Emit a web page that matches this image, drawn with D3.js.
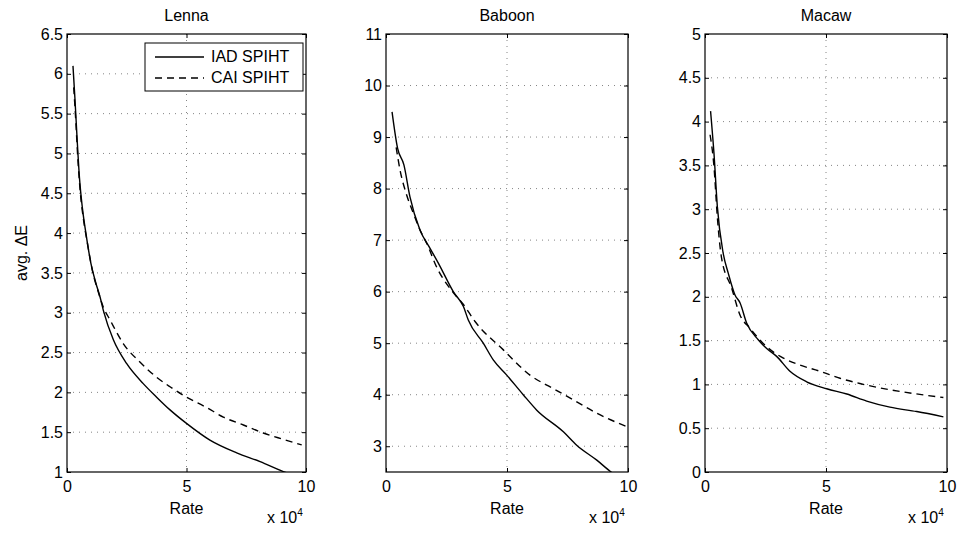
<!DOCTYPE html>
<html><head><meta charset="utf-8">
<script src="https://cdn.jsdelivr.net/npm/d3@7"></script>
<style>body{margin:0;background:#fff}svg{font-family:"Liberation Sans",Arial,Helvetica,sans-serif}</style>
</head><body><svg id="c" width="960" height="533"></svg>
<script>
const xTicks = [0, 5, 10];
const titles = ["Lenna", "Baboon", "Macaw"];
const seriesNames = ["IAD SPIHT", "CAI SPIHT"];
const yDomains = [[1, 6.5], [2.5, 11], [0, 5]];
const yTickSets = [
  [1,1.5,2,2.5,3,3.5,4,4.5,5,5.5,6,6.5],
  [3,4,5,6,7,8,9,10,11],
  [0,0.5,1,1.5,2,2.5,3,3.5,4,4.5,5]
];
// rate (x 10^4), avg dE
const lennaIAD = [[0.25,6.1],[0.33,5.7],[0.42,5.2],[0.52,4.7],[0.65,4.3],[0.8,3.98],[1.0,3.62],[1.2,3.38],[1.38,3.2],[1.52,3.03],[1.94,2.66],[2.5,2.36],[3.19,2.11],[3.75,1.94],[4.31,1.78],[5.0,1.61],[5.98,1.4],[7.1,1.24],[8.08,1.13],[9.19,0.99],[10,0.92]];
const lennaCAI = [[0.28,5.83],[0.36,5.45],[0.45,4.95],[0.56,4.5],[0.7,4.15],[0.85,3.88],[1.07,3.52],[1.3,3.27],[1.52,3.07],[1.8,2.91],[2.36,2.61],[3.05,2.38],[3.75,2.19],[4.31,2.07],[5.0,1.94],[5.84,1.81],[6.54,1.69],[7.38,1.59],[8.21,1.49],[9.05,1.41],[9.82,1.34]];
const baboonIAD = [[0.25,9.49],[0.48,8.78],[0.74,8.46],[0.99,7.84],[1.4,7.2],[1.82,6.84],[2.2,6.52],[2.78,6.0],[3.2,5.71],[3.4,5.45],[4.02,5.0],[4.44,4.67],[4.99,4.38],[5.67,4.0],[6.23,3.7],[7.33,3.28],[7.88,3.02],[8.71,2.73],[9.33,2.49],[10,2.3]];
const baboonCAI = [[0.42,8.8],[0.58,8.36],[0.83,7.91],[1.13,7.52],[1.4,7.2],[1.75,6.87],[2.02,6.55],[2.78,5.98],[3.2,5.75],[3.68,5.42],[4.85,4.87],[5.95,4.38],[6.91,4.12],[7.74,3.9],[8.71,3.64],[9.95,3.38]];
const macawIAD = [[0.23,4.12],[0.37,3.64],[0.51,3.03],[0.75,2.5],[0.96,2.27],[1.24,2.02],[1.45,1.93],[1.72,1.7],[2.2,1.51],[2.55,1.41],[2.96,1.32],[3.51,1.15],[4.2,1.03],[5.03,0.95],[5.86,0.89],[6.68,0.81],[7.64,0.74],[8.75,0.69],[9.85,0.63]];
const macawCAI = [[0.21,3.85],[0.37,3.49],[0.51,2.91],[0.68,2.45],[1.1,2.1],[1.45,1.79],[1.86,1.64],[2.55,1.43],[3.24,1.3],[3.93,1.22],[4.75,1.15],[5.58,1.07],[6.4,1.01],[7.23,0.96],[8.06,0.92],[9.02,0.88],[9.85,0.85]];
const data = [[lennaIAD, lennaCAI],[baboonIAD, baboonCAI],[macawIAD, macawCAI]];

const svg = d3.select("#c");
const panels = [{l:67,r:306},{l:386,r:628},{l:705,r:947}];
const plotTop = 34, plotBot = 472;
const dashes = [null, "7,5"];
const FS = 16;

panels.forEach((p, i) => {
  const x = d3.scaleLinear().domain([0, 10]).range([p.l, p.r]);
  const y = d3.scaleLinear().domain(yDomains[i]).range([plotBot, plotTop]);
  const g = svg.append("g");
  const cid = "clip" + i;
  svg.append("clipPath").attr("id", cid).append("rect")
    .attr("x", p.l).attr("y", plotTop).attr("width", p.r - p.l).attr("height", plotBot - plotTop);
  // grid
  const grid = g.append("g").attr("stroke", "#666").attr("stroke-width", 0.8).attr("stroke-dasharray", "1,5");
  xTicks.slice(1, -1).forEach(t => grid.append("line").attr("x1", x(t)).attr("x2", x(t)).attr("y1", plotTop).attr("y2", plotBot));
  yTickSets[i].forEach(t => { if (t !== yDomains[i][0] && t !== yDomains[i][1]) grid.append("line").attr("x1", p.l).attr("x2", p.r).attr("y1", y(t)).attr("y2", y(t)); });
  // axes (ticks inside)
  g.append("g").attr("transform", `translate(0,${plotBot})`)
    .call(d3.axisBottom(x).tickValues(xTicks).tickSize(-4).tickPadding(9).tickFormat(d3.format("d")))
    .call(a => a.select(".domain").remove());
  g.append("g").attr("transform", `translate(0,${plotTop})`)
    .call(d3.axisTop(x).tickValues(xTicks).tickSize(-4).tickFormat(""))
    .call(a => a.select(".domain").remove());
  g.append("g").attr("transform", `translate(${p.l},0)`)
    .call(d3.axisLeft(y).tickValues(yTickSets[i]).tickSize(-4).tickPadding(4).tickFormat(d => String(d)))
    .call(a => a.select(".domain").remove());
  g.append("g").attr("transform", `translate(${p.r},0)`)
    .call(d3.axisRight(y).tickValues(yTickSets[i]).tickSize(-4).tickFormat(""))
    .call(a => a.select(".domain").remove());
  g.selectAll(".tick text").attr("font-size", FS).attr("fill", "#000").attr("font-family", "Liberation Sans, Arial, sans-serif");
  g.selectAll(".tick line").attr("stroke", "#000");
  g.append("rect").attr("x", p.l).attr("y", plotTop).attr("width", p.r - p.l).attr("height", plotBot - plotTop)
    .attr("fill", "none").attr("stroke", "#000").attr("stroke-width", 1.2);
  // lines
  const line = d3.line().x(d => x(d[0])).y(d => y(d[1])).curve(d3.curveMonotoneX);
  data[i].forEach((s, k) => {
    g.append("path").attr("clip-path", `url(#${cid})`).attr("d", line(s)).attr("fill", "none")
      .attr("stroke", "#000").attr("stroke-width", 1.4).attr("stroke-dasharray", dashes[k]);
  });
  // titles & labels
  const cx = (p.l + p.r) / 2;
  svg.append("text").attr("x", cx).attr("y", 21).attr("text-anchor", "middle").attr("font-size", FS).text(titles[i]);
  svg.append("text").attr("x", cx).attr("y", 514).attr("text-anchor", "middle").attr("font-size", FS).text("Rate");
  const e = svg.append("text").attr("x", p.r - 39).attr("y", 523).attr("font-size", FS);
  e.append("tspan").text("x 10");
  e.append("tspan").attr("dy", -7).attr("font-size", 10).text("4");
});

// y label
svg.append("text").attr("transform", `translate(27,${(plotTop + plotBot) / 2}) rotate(-90)`)
  .attr("text-anchor", "middle").attr("font-size", FS).text("avg. ΔE");

// legend
const lg = svg.append("g");
lg.append("rect").attr("x", 145).attr("y", 43).attr("width", 158).attr("height", 48)
  .attr("fill", "#fff").attr("stroke", "#000").attr("stroke-width", 1);
seriesNames.forEach((n, k) => {
  const yy = 57 + k * 21;
  lg.append("line").attr("x1", 155).attr("x2", 204).attr("y1", yy).attr("y2", yy)
    .attr("stroke", "#000").attr("stroke-width", 1.4).attr("stroke-dasharray", dashes[k]);
  lg.append("text").attr("x", 211).attr("y", yy + 5).attr("font-size", FS).text(n);
});
</script></body></html>
